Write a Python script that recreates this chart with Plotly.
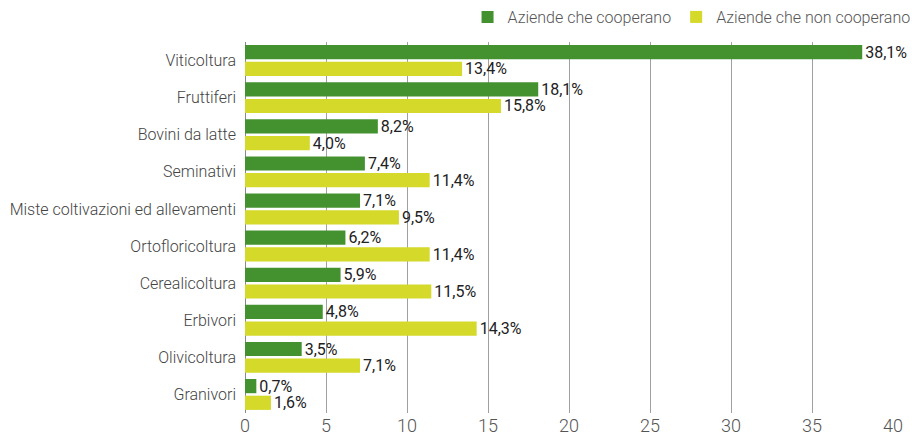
import plotly.graph_objects as go

categories = ["Viticoltura", "Fruttiferi", "Bovini da latte", "Seminativi",
              "Miste coltivazioni ed allevamenti", "Ortofloricoltura",
              "Cerealicoltura", "Erbivori", "Olivicoltura", "Granivori"]
coop = [38.1, 18.1, 8.2, 7.4, 7.1, 6.2, 5.9, 4.8, 3.5, 0.7]
non_coop = [13.4, 15.8, 4.0, 11.4, 9.5, 11.4, 11.5, 14.3, 7.1, 1.6]
series_names = ["Aziende che cooperano", "Aziende che non cooperano"]
tick_vals = [0, 5, 10, 15, 20, 25, 30, 35, 40]

FONT = "Roboto, Liberation Sans, sans-serif"
TXT = "#3a3a3a"


def fmt(v):
    return f"{v:.1f}".replace(".", ",") + "%"


fig = go.Figure()
for name, vals, col in [(series_names[0], coop, "#44922f"),
                        (series_names[1], non_coop, "#d4d92a")]:
    fig.add_trace(go.Bar(
        y=categories, x=vals, name=name, orientation="h",
        marker=dict(color=col, line=dict(width=0)),
        text=[fmt(v) for v in vals], textposition="outside",
        constraintext="none",
        textfont=dict(family=FONT, size=16, color="#222222", weight=400),
        cliponaxis=False,
    ))

fig.update_layout(
    width=922, height=437,
    margin=dict(l=245, r=29, t=42, b=24, autoexpand=False),
    paper_bgcolor="white", plot_bgcolor="white",
    barmode="group", bargap=0.1, bargroupgap=0.15,
    font=dict(family=FONT, color=TXT, weight=300),
    showlegend=True,
    legend=dict(orientation="h", x=0.993, xref="container", xanchor="right",
                y=1.0, yref="container", yanchor="top",
                font=dict(family=FONT, size=16, color="#555555", weight=300),
                traceorder="normal", itemwidth=30, bgcolor="rgba(0,0,0,0)"),
)
fig.update_xaxes(range=[0, 40], tickvals=tick_vals, showgrid=True,
                 gridcolor="#a0a0a0", gridwidth=1, zeroline=True,
                 zerolinecolor="#888888", zerolinewidth=1, automargin=False,
                 tickfont=dict(family=FONT, size=18, color="#555555", weight=300),
                 showline=False, ticks="")
fig.update_yaxes(autorange="reversed", showgrid=False, showline=False,
                 automargin=False,
                 tickfont=dict(family=FONT, size=16, color="#444444", weight=300),
                 ticks="", ticklabelstandoff=8)

fig.write_html("out.html", config={"displayModeBar": False},
               post_script="document.body.style.margin='0';document.body.style.padding='0';")
